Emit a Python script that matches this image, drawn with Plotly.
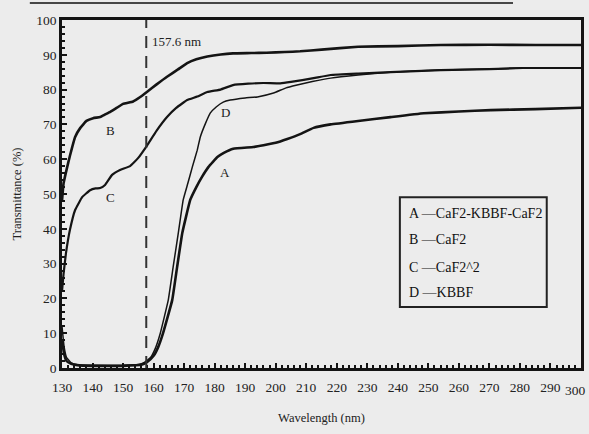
import plotly.graph_objects as go

# ---- data ----
wl_A = [130, 130.7, 131.5, 133, 135, 140, 150, 156, 158, 160, 161.5, 163.1, 166.1, 167.7, 169.4, 172, 174, 175.9, 178, 180.9, 183, 186.1, 192.7, 196, 200, 203.8, 208, 212.4, 218, 227, 237.6, 248.5, 260, 270.5, 285, 300]
T_A = [8, 4, 2, 1.2, 0.8, 0.6, 0.6, 0.9, 1.8, 3.5, 6, 10, 19.5, 29, 38.8, 48.3, 52, 55, 57.8, 60.6, 61.8, 63, 63.5, 64, 64.7, 65.8, 67.2, 69, 70, 71, 72.1, 73.2, 73.7, 74.1, 74.4, 74.8]

wl_B = [130, 130.5, 131.5, 132.6, 134.3, 136, 138, 140.2, 142.5, 144, 145.8, 148, 150, 153.3, 155.5, 157.9, 161, 164.4, 168, 171, 174, 177.6, 182, 186, 192, 197, 203, 208, 215, 227, 240, 254, 270, 285, 300]
T_B = [48, 53, 57, 61, 66.4, 69, 71, 71.8, 72.1, 72.8, 73.6, 74.8, 75.9, 76.6, 77.8, 79.4, 81.5, 83.7, 85.8, 87.6, 88.7, 89.5, 90.1, 90.4, 90.5, 90.6, 90.8, 91, 91.5, 92.3, 92.5, 92.8, 92.9, 92.8, 92.8]

wl_C = [130, 130.5, 131.3, 132.6, 134.3, 136.6, 139.2, 141, 142.5, 144.1, 146.4, 149, 152.3, 154.9, 157.9, 161, 164.4, 167.5, 171, 174.3, 177.6, 181.9, 186, 191, 196, 201.5, 205, 212.4, 218, 227, 237.6, 254, 270, 281, 300]
T_C = [22, 27, 33, 39.7, 45.4, 49.1, 51.1, 51.6, 51.7, 52.6, 55.5, 56.9, 58, 60.3, 64, 68.2, 72.1, 74.8, 77, 78, 79.3, 80, 81.3, 81.7, 81.9, 81.8, 82.2, 83.3, 84.2, 84.6, 85, 85.6, 85.9, 86.2, 86.2]

wl_D = [130, 130.7, 131.5, 133, 135, 140, 150, 155, 157, 159, 160.5, 162.2, 164.8, 166.4, 168.1, 169.7, 171.2, 172.7, 174.3, 175.3, 177, 178.6, 180.5, 182.8, 185.1, 190, 194, 199.3, 203.4, 207, 212, 218, 227, 237.6, 254, 270, 281, 300]
T_D = [12, 6, 3, 1.5, 1, 0.8, 0.8, 1, 1.6, 3, 5.5, 10, 19.5, 29, 38.8, 48.3, 53, 57.8, 62.6, 66.4, 70.3, 73.3, 75, 76.4, 77, 77.6, 77.9, 79, 80.5, 81.3, 82.3, 83.3, 84.2, 85, 85.6, 85.9, 86.2, 86.2]

curve_labels = ["A", "B", "C", "D"]
label_wl = [183.5, 145.8, 145.8, 183.5]
label_T = [56.3, 68.2, 48.9, 73.3]

legend_lines = ["A —CaF2-KBBF-CaF2", "B —CaF2", "C —CaF2^2", "D —KBBF"]

cutoff_wl = 157.6
cutoff_text = "157.6 nm"

x_ticks = list(range(130, 301, 10))
y_ticks = list(range(0, 101, 10))

# ---- figure ----
BG = "#ececec"
INK = "#141414"
FONT = "Liberation Serif, Times New Roman, serif"
SM = 0.3

fig = go.Figure()
fig.add_trace(go.Scatter(x=wl_B, y=T_B, mode="lines", line=dict(color=INK, width=2.6, shape="spline", smoothing=SM), showlegend=False))
fig.add_trace(go.Scatter(x=wl_C, y=T_C, mode="lines", line=dict(color=INK, width=2.2, shape="spline", smoothing=SM), showlegend=False))
fig.add_trace(go.Scatter(x=wl_D, y=T_D, mode="lines", line=dict(color=INK, width=1.5, shape="spline", smoothing=SM), showlegend=False))
fig.add_trace(go.Scatter(x=wl_A, y=T_A, mode="lines", line=dict(color=INK, width=2.6, shape="spline", smoothing=SM), showlegend=False))

# cutoff dashed line
fig.add_shape(type="line", x0=cutoff_wl, x1=cutoff_wl, y0=0, y1=100, xref="x", yref="y",
              line=dict(color="#333333", width=2, dash="12px,8px"))
fig.add_annotation(x=cutoff_wl, y=93.7, xref="x", yref="y", text=cutoff_text, showarrow=False,
                   xanchor="left", xshift=4, font=dict(family=FONT, size=13, color="#222222"))

for lab, lx, ly in zip(curve_labels, label_wl, label_T):
    fig.add_annotation(x=lx, y=ly, xref="x", yref="y", text=lab, showarrow=False,
                       font=dict(family=FONT, size=13, color="#222222"))

# legend box: rectangle + one text line per entry
fig.add_shape(type="rect", xref="paper", yref="paper", x0=0.651, x1=0.934, y0=0.175, y1=0.491,
              line=dict(color="#222222", width=2), fillcolor=BG, layer="above")
legend_y = [0.445, 0.368, 0.289, 0.216]
for txt, ly in zip(legend_lines, legend_y):
    fig.add_annotation(x=0.665, y=ly, xref="paper", yref="paper", xanchor="left", yanchor="middle",
                       text=txt, showarrow=False, font=dict(family=FONT, size=14, color="#111111"))

# last x tick label (would overflow the page edge and be dropped by the axis); kept inside the page
fig.add_annotation(x=x_ticks[-1], y=0, xref="x", yref="y", text=str(x_ticks[-1]), showarrow=False,
                   xanchor="right", xshift=7, yanchor="top", yshift=-13,
                   font=dict(family=FONT, size=13.5, color="#222222"))

# stray top rule of the original scan
fig.add_shape(type="line", xref="paper", yref="paper", x0=-0.062, x1=0.869, y0=1.049, y1=1.049,
              line=dict(color="#111111", width=1.5))

fig.update_layout(
    width=589, height=434,
    margin=dict(l=62, r=8, t=20, b=66, autoexpand=False),
    paper_bgcolor=BG, plot_bgcolor=BG,
    font=dict(family=FONT, size=13, color="#222222"),
    showlegend=False,
)
fig.update_xaxes(range=[130, 300], tickvals=x_ticks, ticks="inside", ticklen=5, tickwidth=1.5, tickcolor=INK,
                 minor=dict(dtick=2, ticks="inside", ticklen=3, tickcolor=INK),
                 showline=True, linewidth=2.5, linecolor=INK, mirror=True, showgrid=False, zeroline=False,
                 title=dict(text="Wavelength (nm)", font=dict(family=FONT, size=12.5), standoff=20),
                 tickfont=dict(family=FONT, size=13.5), ticklabelstandoff=5, automargin=False)
fig.update_yaxes(range=[0, 100], tickvals=y_ticks, ticks="inside", ticklen=5, tickwidth=1.5, tickcolor=INK,
                 minor=dict(dtick=2, ticks="inside", ticklen=3, tickcolor=INK),
                 showline=True, linewidth=2.5, linecolor=INK, mirror=True, showgrid=False, zeroline=False,
                 title=dict(text="Transmittance (%)", font=dict(family=FONT, size=12.5), standoff=12),
                 tickfont=dict(family=FONT, size=13.5), automargin=False)

fig.write_html("out.html")
